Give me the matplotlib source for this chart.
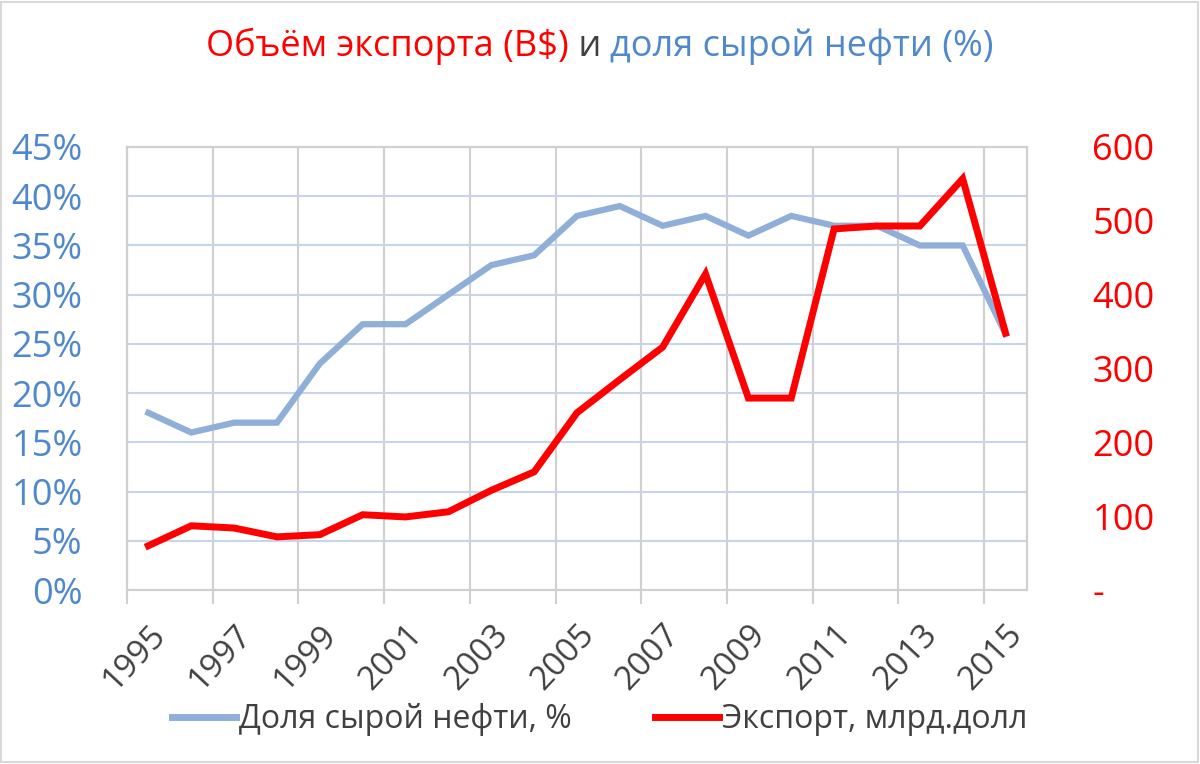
import matplotlib
matplotlib.use("Agg")
import matplotlib.pyplot as plt
from matplotlib.offsetbox import TextArea, HPacker, AnchoredOffsetbox
from matplotlib.patches import Rectangle

plt.rcParams['font.family'] = ['Open Sans', 'DejaVu Sans']

# данные
years = list(range(1995, 2016))
dolya_nefti = [18, 16, 17, 17, 23, 27, 27, 30, 33, 34, 38, 39, 37, 38, 36, 38, 37, 37, 35, 35, 26]
eksport = [60, 87, 84, 72, 75, 102, 99, 106, 135, 160, 240, 285, 329, 428, 260, 260, 489, 493, 493, 557, 348]
year_labels = [str(y) for y in years[::2]]
left_ticks = [0, 5, 10, 15, 20, 25, 30, 35, 40, 45]
right_ticks = [0, 100, 200, 300, 400, 500, 600]

c_blue_line = '#8fafd9'
c_red = '#ff0000'
c_blue_txt = '#4f88cc'
c_gray_txt = '#404040'

fig = plt.figure(figsize=(12, 7.64), dpi=100)
ax = fig.add_axes([0.1058, 0.2277, 0.75, 0.5799])
ax2 = ax.twinx()

x = list(range(len(years)))
ax.plot(x, [v / 100 for v in dolya_nefti], color=c_blue_line, lw=4.5, solid_joinstyle='miter')
ax2.plot(x, eksport, color=c_red, lw=5, solid_joinstyle='miter')

ax.set_xlim(-0.5, len(years) - 0.5)
ax.set_ylim(0, 0.45)
ax2.set_ylim(0, 600)

# левая ось
ax.set_yticks([t / 100 for t in left_ticks])
ax.set_yticklabels(['%d%%' % t for t in left_ticks])
ax.tick_params(axis='y', length=0, pad=32, labelsize=26, labelcolor=c_blue_txt)

# правая ось
ax2.set_yticks(right_ticks)
ax2.set_yticklabels(['-' if t == 0 else str(t) for t in right_ticks])
ax2.tick_params(axis='y', length=0, pad=47, labelsize=26, labelcolor=c_red)

# ось X: линии сетки на границах через 2 категории, подписи в центрах
bounds = [i - 0.5 for i in range(0, len(years), 2)]
ax.set_xticks(bounds)
ax.set_xticklabels([])
ax.tick_params(axis='x', which='major', length=10, color='#d0d0d0', width=1.5)
ax.set_xticks(x[::2], minor=True)
ax.set_xticklabels(year_labels, minor=True, rotation=47, ha='right',
                   rotation_mode='anchor', fontsize=24, color=c_gray_txt)
ax.tick_params(axis='x', which='minor', length=0, pad=20)

ax.grid(axis='y', color='#c6d5ea', lw=1.5)
ax.grid(axis='x', which='major', color='#d0d0d0', lw=1.5)
ax.set_axisbelow(True)
for a in (ax, ax2):
    for s in a.spines.values():
        s.set_color('#d0d0d0')
        s.set_linewidth(1.5)
ax.spines['bottom'].set_color('#c6d5ea')

# заголовок из трёх частей разного цвета
parts = [('Объём экспорта (B$)', c_red), (' и ', c_gray_txt), ('доля сырой нефти (%)', c_blue_txt)]
boxes = [TextArea(t, textprops=dict(color=c, fontsize=26)) for t, c in parts]
pack = HPacker(children=boxes, align='baseline', pad=0, sep=0)
title = AnchoredOffsetbox(loc='center', child=pack, frameon=False,
                          bbox_to_anchor=(0.5, 1 - 46 / 764), bbox_transform=fig.transFigure)
fig.add_artist(title)

# легенда
h1 = plt.Line2D([], [], color=c_blue_line, lw=5)
h2 = plt.Line2D([], [], color=c_red, lw=5)
fig.legend([h1, h2], ['Доля сырой нефти, %', 'Экспорт, млрд.долл'], loc='center',
           bbox_to_anchor=(0.5, 1 - 720 / 764), ncol=2, frameon=False, fontsize=23,
           labelcolor=c_gray_txt, handlelength=2.0, handletextpad=0.1, columnspacing=2.6)

fig.add_artist(Rectangle((0.001, 0.002), 0.997, 0.996, transform=fig.transFigure,
                         fill=False, edgecolor='#d9d9d9', lw=1.5))

fig.savefig('out.png', dpi=100)
